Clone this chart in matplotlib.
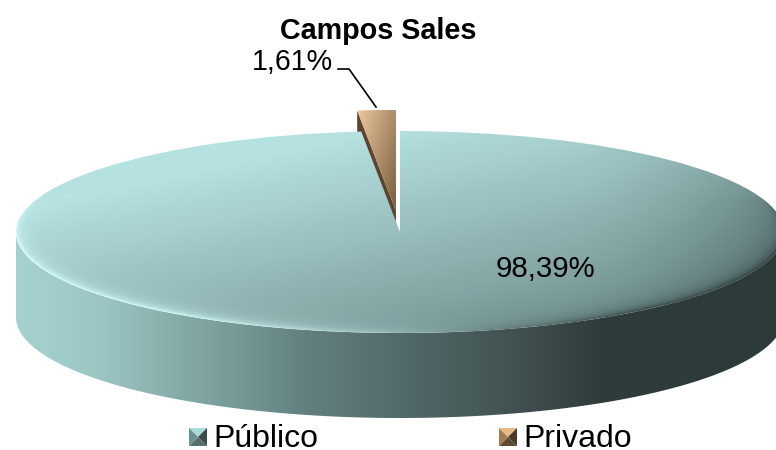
#! /usr/bin/env python3
import numpy as np
import matplotlib.pyplot as plt
from matplotlib.patches import Polygon

plt.rcParams["font.family"] = ["Liberation Sans", "DejaVu Sans"]

title = "Campos Sales"
categories = ["Público", "Privado"]
values = [98.39, 1.61]
value_labels = ["98,39%", "1,61%"]

W, H = 776, 450
# ellipse in pixels
cx, cy, a, b = 400, 232, 384, 101
depth = 85 / b
explode = [0, 0.208]


def ramp(x, stops):
    xs = [s[0] for s in stops]
    return np.stack([np.interp(x, xs, [s[1][i] for s in stops]) for i in range(3)], axis=-1) / 255


px, py = np.meshgrid(np.arange(W) + 0.5, np.arange(H) + 0.5)
nx, ny = (px - cx) / a, (cy - py) / b

# top face of the big slice
t = 0.00067 * (px - 100) + 0.003 * (py - 200) + 0.03 + 0.35 * np.clip((px - 550) / 230, 0, 1) ** 2
t = np.clip(t, 0, 1)[..., None]
face = (1 - t) * np.array([182, 226, 225]) / 255 + t * np.array([90, 115, 115]) / 255

# bevel along the front rim
r = np.sqrt(nx**2 + ny**2) + 1e-6
grad = np.sqrt((nx / a) ** 2 + (ny / b) ** 2) / r
dist = np.clip(1 - r, 0, None) / grad
rim = ramp(px, [(16, (218, 255, 255)), (200, (208, 248, 248)), (300, (185, 222, 222)),
                (400, (150, 185, 185)), (500, (100, 125, 125)), (620, (56, 72, 72)), (776, (46, 60, 60))])
w = ((0.6 * np.exp(-dist / 3) + 0.4 * np.exp(-dist / 10)) * np.clip((py - 195) / 40, 0, 1))[..., None]
face = face * (1 - w) + rim * w

side = ramp(px, [(16, (165, 210, 208)), (100, (155, 198, 196)), (200, (128, 165, 162)), (250, (115, 148, 146)),
                 (300, (100, 130, 129)), (400, (82, 106, 106)), (500, (68, 85, 85)), (550, (58, 72, 72)),
                 (600, (46, 60, 60)), (776, (45, 58, 58))])

# small slice
s = np.clip((px - 358) / 38 * 0.55 + (py - 110) / 100 * 0.45, 0, 1)[..., None]
tan = (1 - s) * np.array([236, 200, 158]) / 255 + s * np.array([120, 92, 62]) / 255

fig = plt.figure(figsize=(W / 100, H / 100), dpi=100)
ax = fig.add_axes([0, 0, 1, 1])
wedges, _ = ax.pie(values, explode=explode, startangle=90, counterclock=False, radius=1,
                   colors=["none", "none"], wedgeprops={"linewidth": 0})
ax.set_aspect("auto")
ax.set_frame_on(False)
extent = ((0 - cx) / a, (W - cx) / a, (cy - H) / b, cy / b)

# wall of the small slice, mostly hidden behind the big one
tip = wedges[1].center
ang = np.radians(wedges[1].theta2)
edge = (tip[0] + np.cos(ang), tip[1] + np.sin(ang))
wall = Polygon([tip, edge, (edge[0], edge[1] - depth), (tip[0], tip[1] - depth)],
               facecolor="#5a4630", edgecolor="none", zorder=1)
ax.add_patch(wall)

# front wall of the big slice
th = np.radians(np.linspace(180, 360, 200))
front = np.column_stack([np.cos(th), np.sin(th)])
lower = front + [0, -depth]
wall_poly = Polygon(np.vstack([front, lower[::-1]]), facecolor="none", edgecolor="none", zorder=2)
ax.add_patch(wall_poly)
im = ax.imshow(side, extent=extent, aspect="auto", zorder=2, interpolation="bilinear")
im.set_clip_path(wall_poly)

wedges[0].set_zorder(3)
im = ax.imshow(face, extent=extent, aspect="auto", zorder=3, interpolation="bilinear")
im.set_clip_path(wedges[0])

wedges[1].set_zorder(4)
im = ax.imshow(tan, extent=extent, aspect="auto", zorder=4, interpolation="bilinear")
im.set_clip_path(wedges[1])

ax.set_xlim(extent[0], extent[1])
ax.set_ylim(extent[2], extent[3])

# overlay in pixel coords for text and legend
ov = fig.add_axes([0, 0, 1, 1], facecolor="none")
ov.set_xlim(0, W)
ov.set_ylim(H, 0)
ov.axis("off")

ov.text(378, 31, title, fontsize=20.7, fontweight="bold", ha="center", va="center")
ov.text(292, 61.5, value_labels[1], fontsize=20.6, ha="center", va="center")
ov.text(545, 269, value_labels[0], fontsize=21.2, ha="center", va="center")
ov.plot([338, 349, 376], [69, 69, 107], color="black", lw=1.2)

legend_x = [189, 499]
# top, right, bottom, left
legend_colors = [
    ["#a8dcdc", "#3c4a4a", "#556f6f", "#6a9090"],
    ["#e8b888", "#4a3a2a", "#5e4a30", "#a07c50"],
]
for x0, name, cols in zip(legend_x, categories, legend_colors):
    y0, size = 428, 18
    c = (x0 + size / 2, y0 + size / 2)
    corners = [(x0, y0), (x0 + size, y0), (x0 + size, y0 + size), (x0, y0 + size)]
    for i, col in enumerate(cols):
        ov.add_patch(Polygon([corners[i], corners[(i + 1) % 4], c], facecolor=col, edgecolor="none"))
    ov.text(x0 + 24, 439, name, fontsize=23, ha="left", va="center")

fig.savefig("out.png", dpi=100)
